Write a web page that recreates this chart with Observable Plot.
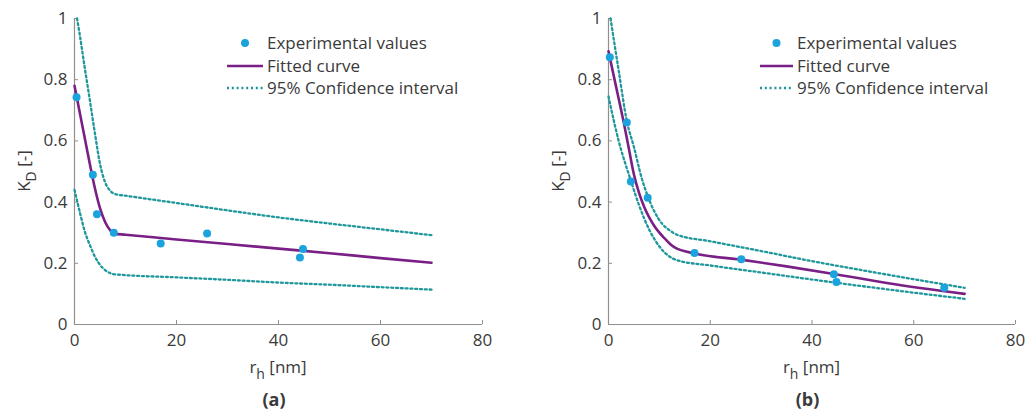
<!DOCTYPE html>
<html><head><meta charset="utf-8">
<script src="https://cdn.jsdelivr.net/npm/d3@7"></script>
<script src="https://cdn.jsdelivr.net/npm/@observablehq/plot@0.6"></script>
<style>
body{margin:0;background:#fff;}
#wrap{position:relative;width:1025px;height:410px;font-family:"Open Sans",sans-serif;color:#3a3a3a;overflow:hidden;background:#fff}
.panel{position:absolute;top:0;height:410px}
.abs{position:absolute;white-space:nowrap;font-size:17px;line-height:20px}
.sub{font-size:14px;position:relative;top:6px}
.leg{position:absolute;font-size:17px;line-height:22px;white-space:nowrap}
.leg .row{position:relative;height:22.5px}
.leg svg{position:absolute;left:0;top:0}
.leg span{position:absolute;top:0}
</style></head><body><div id="wrap"></div>
<script>
// ---- tick labels ----
const xTicks = [0, 20, 40, 60, 80];
const xTickLabels = ["0", "20", "40", "60", "80"];
const yTicks = [0, 0.2, 0.4, 0.6, 0.8, 1];
const yTickLabels = ["0", "0.2", "0.4", "0.6", "0.8", "1"];
const legendLabels = ["Experimental values", "Fitted curve", "95% Confidence interval"];
const panelLabels = ["(a)", "(b)"];

// ---- panel (a) ----
const expA_r = [0.4, 3.6, 4.4, 7.7, 16.9, 26.0, 44.2, 44.8];
const expA_k = [0.743, 0.489, 0.360, 0.300, 0.265, 0.297, 0.219, 0.247];
const fitA_r = [0, 1, 2, 3, 4, 5, 6, 7, 7.7, 10, 20, 30, 40, 50, 60, 70];
const fitA_k = [0.78, 0.695, 0.61, 0.525, 0.445, 0.38, 0.335, 0.308, 0.297, 0.2935, 0.278, 0.263, 0.248, 0.233, 0.217, 0.202];
const upA_r = [0.5, 1, 2, 3, 4, 5, 6, 7, 8, 10, 20, 30, 40, 50, 60, 70];
const upA_k = [1.0, 0.95, 0.84, 0.734, 0.625, 0.525, 0.465, 0.437, 0.426, 0.421, 0.397, 0.373, 0.350, 0.330, 0.311, 0.292];
const loA_r = [0, 1, 2, 3, 4, 5, 6, 7, 8, 20, 30, 40, 50, 60, 70];
const loA_k = [0.44, 0.37, 0.305, 0.26, 0.222, 0.195, 0.178, 0.168, 0.164, 0.154, 0.146, 0.137, 0.13, 0.122, 0.114];

// ---- panel (b) ----
const expB_r = [0.26, 3.6, 4.4, 7.7, 16.9, 26.1, 44.3, 44.8, 66.0];
const expB_k = [0.873, 0.660, 0.467, 0.414, 0.234, 0.213, 0.164, 0.139, 0.120];
const fitB_r = [0, 1, 2, 3, 4, 5, 6, 7, 8, 9, 10, 11, 12, 13, 17, 26, 35, 44, 55, 70];
const fitB_k = [0.893, 0.815, 0.738, 0.66, 0.575, 0.49, 0.43, 0.385, 0.35, 0.322, 0.30, 0.282, 0.265, 0.252, 0.232, 0.212, 0.19, 0.166, 0.135, 0.10];
const upB_r = [0.4, 2, 3.6, 5, 6.5, 7.7, 9, 10.5, 12, 13.5, 20, 30, 40, 50, 60, 70];
const upB_k = [1.0, 0.83, 0.665, 0.58, 0.48, 0.42, 0.37, 0.33, 0.308, 0.293, 0.272, 0.24, 0.207, 0.177, 0.148, 0.12];
const loB_r = [0, 2, 4.4, 6, 8, 10, 12, 13.5, 20, 30, 40, 50, 60, 70];
const loB_k = [0.745, 0.6, 0.47, 0.39, 0.31, 0.255, 0.222, 0.21, 0.193, 0.17, 0.147, 0.125, 0.104, 0.084];

const C = {dot: "#1ba3dd", fit: "#7a1f86", ci: "#1f979b", axis: "#8f8f8f", text: "#3a3a3a"};
const DASH = "2,2.8";
const zip = (r, k) => r.map((v, i) => ({r: v, k: k[i]}));

function panel(o) {
  const fw = o.width - o.ml - o.mr, fh = 410 - 18 - 86;
  return Plot.plot({
    width: o.width, height: 410,
    marginLeft: o.ml, marginRight: o.mr, marginTop: 18, marginBottom: 86,
    x: {domain: [0, 80]}, y: {domain: [0, 1]},
    style: {fontFamily: "'Open Sans', sans-serif", fontSize: "17px", color: C.text, background: "transparent", overflow: "visible"},
    marks: [
      Plot.ruleY([0], {stroke: C.axis, strokeWidth: 1.2}),
      Plot.ruleX([0], {stroke: C.axis, strokeWidth: 1.2}),
      Plot.tickX(xTicks, {x: d => d, stroke: C.axis, insetTop: fh - 4}),
      Plot.tickY(yTicks, {y: d => d, stroke: C.axis, insetRight: fw - 4}),
      Plot.axisX({ticks: xTicks, tickFormat: d => xTickLabels[xTicks.indexOf(d)], tickSize: 0, tickPadding: 9, label: null, stroke: "none"}),
      Plot.axisY({ticks: yTicks, tickFormat: d => yTickLabels[yTicks.indexOf(d)], tickSize: 0, tickPadding: 7, label: null, stroke: "none"}),
      Plot.line(zip(o.lo_r, o.lo_k), {x: "r", y: "k", stroke: C.ci, strokeWidth: 2.3, strokeDasharray: DASH, curve: "monotone-x"}),
      Plot.line(zip(o.up_r, o.up_k), {x: "r", y: "k", stroke: C.ci, strokeWidth: 2.3, strokeDasharray: DASH, curve: "monotone-x"}),
      Plot.line(zip(o.fit_r, o.fit_k), {x: "r", y: "k", stroke: C.fit, strokeWidth: 2.6, curve: "monotone-x"}),
      Plot.dot(zip(o.exp_r, o.exp_k), {x: "r", y: "k", r: 4, fill: C.dot, stroke: "none"})
    ]
  });
}

const wrap = document.getElementById("wrap");
function addPanel(left, o, label) {
  const p = document.createElement("div");
  p.className = "panel";
  p.style.left = left + "px";
  p.style.width = o.width + "px";
  p.appendChild(panel(o));
  wrap.appendChild(p);
  const cx = o.ml + (o.width - o.ml - o.mr) / 2;
  // y label
  const yl = document.createElement("div");
  yl.className = "abs";
  yl.style.left = (o.ml - 50) + "px"; yl.style.top = "171px";
  yl.style.transform = "translate(-50%,-50%) rotate(-90deg)";
  yl.innerHTML = 'K<span class="sub">D</span> [-]';
  p.appendChild(yl);
  // x label
  const xl = document.createElement("div");
  xl.className = "abs";
  xl.style.left = cx + "px"; xl.style.top = "357px";
  xl.style.transform = "translateX(-50%)";
  xl.innerHTML = 'r<span class="sub">h</span> [nm]';
  p.appendChild(xl);
  // panel label
  const pl = document.createElement("div");
  pl.className = "abs";
  pl.style.left = (cx - 4) + "px"; pl.style.top = "389px";
  pl.style.transform = "translateX(-50%)";
  pl.style.fontWeight = "bold";
  pl.style.fontSize = "18px";
  pl.textContent = label;
  p.appendChild(pl);
  // legend
  const lg = document.createElement("div");
  lg.className = "leg";
  lg.style.left = (o.ml + o.legX) + "px"; lg.style.top = "32px";
  const sym = [
    `<svg width="${o.legW}" height="22"><circle cx="${o.legW / 2}" cy="11" r="4" fill="${C.dot}"/></svg>`,
    `<svg width="${o.legW}" height="22"><line x1="0" x2="${o.legW}" y1="11" y2="11" stroke="${C.fit}" stroke-width="2.6"/></svg>`,
    `<svg width="${o.legW}" height="22"><line x1="0" x2="${o.legW}" y1="11" y2="11" stroke="${C.ci}" stroke-width="2.3" stroke-dasharray="${DASH}"/></svg>`
  ];
  lg.innerHTML = legendLabels.map((t, i) => `<div class="row">${sym[i]}<span style="left:${o.legW + 4}px">${t}</span></div>`).join("");
  p.appendChild(lg);
}

addPanel(0, {width: 512, ml: 74, mr: 30, legX: 153, legW: 36,
  exp_r: expA_r, exp_k: expA_k, fit_r: fitA_r, fit_k: fitA_k, up_r: upA_r, up_k: upA_k, lo_r: loA_r, lo_k: loA_k}, panelLabels[0]);
addPanel(512, {width: 513, ml: 96, mr: 10, legX: 152, legW: 33,
  exp_r: expB_r, exp_k: expB_k, fit_r: fitB_r, fit_k: fitB_k, up_r: upB_r, up_k: upB_k, lo_r: loB_r, lo_k: loB_k}, panelLabels[1]);
</script>
</body></html>
